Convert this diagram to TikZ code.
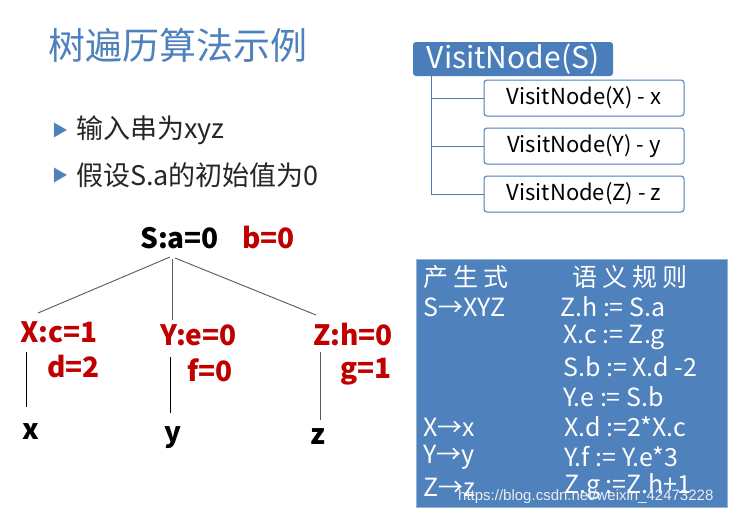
\documentclass[tikz,border=0pt]{standalone}
\usepackage{fontspec}
\setmainfont{Noto Sans CJK SC}
\definecolor{tblue}{HTML}{4F81BD}
\definecolor{bblue}{HTML}{4A7EBB}
\definecolor{tred}{HTML}{C00000}
\begin{document}
\begin{tikzpicture}[x=1pt,y=-1pt,
  tr/.style={font=\fontsize{28}{30}\selectfont\bfseries,inner sep=0pt,anchor=west},
  ln/.style={gray!70!black,line width=0.9pt},
  lb/.style={black,line width=0.8pt},
  child/.style={draw=bblue,line width=1pt,rounded corners=3pt,fill=white,minimum width=200pt,minimum height=36pt,font=\fontsize{22}{24}\selectfont,inner sep=0pt},
  rt/.style={white,font=\fontsize{25}{27}\selectfont,inner sep=0pt,anchor=west}]
\useasboundingbox (0,0) rectangle (739,517);
\node[anchor=west,tblue,font=\fontsize{37}{40}\selectfont,inner sep=0pt] (title) at (48,45) {树遍历算法示例};
\node[anchor=west,tblue,font=\fontsize{16}{18}\selectfont,inner sep=0pt] (b1) at (52,130) {▶};
\node[anchor=west,tblue,font=\fontsize{16}{18}\selectfont,inner sep=0pt] (b2) at (52,175) {▶};
\node[anchor=west,gray!30!black,font=\fontsize{27}{30}\selectfont,inner sep=0pt] (t1) at (76,130) {输入串为xyz};
\node[anchor=west,gray!30!black,font=\fontsize{27}{30}\selectfont,inner sep=0pt] (t2) at (76,175) {假设S.a的初始值为0};
% tree
\node[tr] (S) at (140,238) {S:a=0};
\node[tr,tred] (Sb) at (242,238) {b=0};
\coordinate (s1) at (170,257); \coordinate (s2) at (172,259); \coordinate (s3) at (175,258);
\coordinate (xt) at (38,313); \coordinate (yt) at (172,320); \coordinate (zt) at (316,315);
\draw[ln] (s1) -- (xt); \draw[ln] (s2) -- (yt); \draw[ln] (s3) -- (zt);
\node[tr,tred] (X) at (20,332) {X:c=1};
\node[tr,tred] (Xd) at (47,367) {d=2};
\node[tr,tred] (Y) at (160,335) {Y:e=0};
\node[tr,tred] (Yf) at (187,370) {f=0};
\node[tr,tred] (Z) at (313,335) {Z:h=0};
\node[tr,tred] (Zg) at (340,372) {g=1};
\node[tr] (x) at (22,432) {x};
\node[tr] (y) at (164,438) {y};
\node[tr] (z) at (310,437) {z};
\coordinate (xa) at (26,352); \coordinate (xb) at (26,407);
\coordinate (ya) at (170,357); \coordinate (yb) at (170,413);
\coordinate (za) at (320,352); \coordinate (zb) at (320,420);
\draw[lb] (xa) -- (xb); \draw[lb] (ya) -- (yb); \draw[ln] (za) -- (zb);
% visit nodes
\node[fill=bblue,rounded corners=3pt,minimum width=200pt,minimum height=34pt,text=white,font=\fontsize{30}{32}\selectfont,inner sep=0pt] (V) at (513,59) {VisitNode(S)};
\node[child] (VX) at (584,98) {VisitNode(X) - x};
\node[child] (VY) at (584,146) {VisitNode(Y) - y};
\node[child] (VZ) at (584,194) {VisitNode(Z) - z};
\draw[bblue,line width=0.9pt] (V.south west) ++(19,0) |- (VZ.west);
\draw[bblue,line width=0.9pt] (V.south west) ++(19,0) |- (VX.west);
\draw[bblue,line width=0.9pt] (V.south west) ++(19,0) |- (VY.west);
% table
\node[fill=tblue,draw=tblue!60,minimum width=311pt,minimum height=248pt,inner sep=0pt] (T) at (571.5,383) {};
\node[rt] (h1) at (423,277) {产\hspace{5pt}生\hspace{5pt}式};
\node[rt] (h2) at (572,277) {语\hspace{5pt}义\hspace{5pt}规\hspace{5pt}则};
\node[rt] (p1) at (423,307) {S→XYZ};
\node[rt] (p2) at (423,427) {X→x};
\node[rt] (p3) at (423,457) {Y→y};
\node[rt] (p4) at (423,487) {Z→z};
\node[rt] (r1) at (560,307) {Z.h := S.a};
\node[rt] (r2) at (563,337) {X.c := Z.g};
\node[rt] (r3) at (563,367) {S.b := X.d -2};
\node[rt] (r4) at (563,397) {Y.e := S.b};
\node[rt] (r5) at (564,427) {X.d :=2*X.c};
\node[rt] (r6) at (564,457) {Y.f := Y.e*3};
\node[rt] (r7) at (564,487) {Z.g :=Z.h+1};
\node[anchor=west,inner sep=0pt,white!85!gray,font=\fontsize{15}{17}\selectfont\fontspec{Liberation Sans}] (wm) at (458,497) {https://blog.csdn.net/weixin\_42473228};
\end{tikzpicture}
\end{document}
